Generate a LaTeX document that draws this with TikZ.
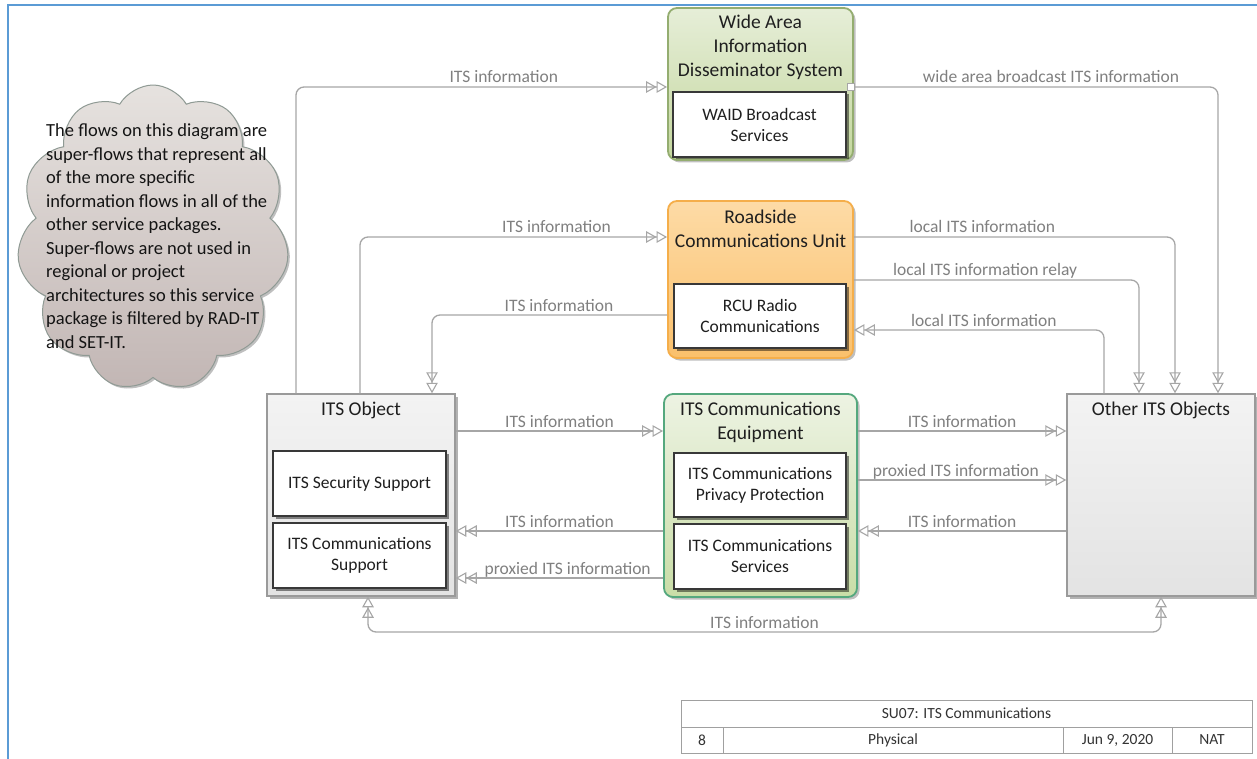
\documentclass[tikz,border=0pt]{standalone}
\usepackage{fontspec}
\setmainfont{Carlito}
\usetikzlibrary{arrows.meta,shapes.symbols,shadows}
\definecolor{framecol}{HTML}{5B9BD5}
\definecolor{flowgray}{HTML}{A6A6A6}
\definecolor{labgray}{HTML}{808080}
\definecolor{waidsborder}{HTML}{94AD70}
\definecolor{waidstop}{HTML}{E6EED8}
\definecolor{waidsbot}{HTML}{C4D79E}
\definecolor{rsuborder}{HTML}{F5AE4A}
\definecolor{rsutop}{HTML}{FDDBA6}
\definecolor{rsubot}{HTML}{FAC06C}
\definecolor{ceborder}{HTML}{55A87E}
\definecolor{cetop}{HTML}{EDF3E3}
\definecolor{cebot}{HTML}{C9DDA7}
\definecolor{gborder}{HTML}{9A9A9A}
\definecolor{gtop}{HTML}{F3F3F3}
\definecolor{gbot}{HTML}{E3E3E3}
\definecolor{cloudtop}{HTML}{E6E2DF}
\definecolor{cloudbot}{HTML}{C2B6B4}
\definecolor{cloudborder}{HTML}{8F9A94}
\definecolor{tbgray}{HTML}{A0A0A0}
\tikzset{dbl/.tip={Triangle[open,length=10.5pt,width=11.5pt,line width=1.1pt] Triangle[open,length=10.5pt,width=11.5pt,line width=1.1pt]}}
\begin{document}
\begin{tikzpicture}[x=1pt,y=-1pt,
  hdr/.style={font=\fontsize{19.5}{24}\selectfont, align=center, text=black!88, inner sep=0pt},
  inner/.style={draw=black!78, fill=white, line width=1.3pt, align=center,
    font=\fontsize{17.5}{21}\selectfont, text=black!88, inner sep=0pt,
    drop shadow={shadow xshift=2.5pt,shadow yshift=-2.5pt,fill=black,opacity=0.45}},
  outer/.style={rounded corners=9pt, line width=1.8pt, inner sep=0pt,
    drop shadow={shadow xshift=2.5pt,shadow yshift=-2.5pt,fill=black,opacity=0.25}},
  sqbox/.style={draw=gborder, line width=1.5pt, top color=gtop, bottom color=gbot, inner sep=0pt,
    drop shadow={shadow xshift=2.5pt,shadow yshift=-2.5pt,fill=black,opacity=0.3}},
  flow/.style={draw=flowgray, line width=1.3pt, rounded corners=8pt},
  flab/.style={font=\fontsize{17.5}{21}\selectfont, text=labgray, anchor=base, yshift=4pt, inner sep=0pt},
  tb/.style={draw=tbgray, line width=1pt, fill=white, font=\fontsize{15.5}{18}\selectfont, text=black!80, inner sep=0pt},
]
\useasboundingbox (0,0) rectangle (1257,759);
\fill[white] (0,0) rectangle (1257,759);
% frame
\draw[framecol, line width=2pt] (8,759) -- (8,5) -- (1257,5);

% note cloud
\node[cloud, cloud puffs=11, cloud puff arc=120, aspect=0.87, draw=cloudborder, line width=1pt,
  top color=cloudtop, bottom color=cloudbot, minimum width=272pt, minimum height=306pt, inner sep=0pt,
  drop shadow={shadow xshift=2pt,shadow yshift=-2pt,fill=black,opacity=0.25}] (cloud) at (153,238) {};
\node[anchor=north west, align=left, font=\fontsize{18.5}{23.5}\selectfont, text=black!92, inner sep=0pt] (note) at (46,123.5)
 {The flows on this diagram are\\super-flows that represent all\\of the more specific\\information flows in all of the\\other service packages.\\Super-flows are not used in\\regional or project\\architectures so this service\\package is filtered by RAD-IT\\and SET-IT.};

% WAIDS
\node[outer, draw=waidsborder, top color=waidstop, bottom color=waidsbot, minimum width=185pt, minimum height=152pt] (waids) at (760.5,84) {};
\node[hdr] (waidsT) at (760.5,47) {Wide Area\\Information\\Disseminator System};
\node[inner, minimum width=173pt, minimum height=65pt] (waidsA) at (759.5,124.5) {WAID Broadcast\\Services};

% RSU
\node[outer, draw=rsuborder, top color=rsutop, bottom color=rsubot, minimum width=185pt, minimum height=157pt] (rsu) at (760.5,279.5) {};
\node[hdr] (rsuT) at (760.5,228.5) {Roadside\\Communications Unit};
\node[inner, minimum width=172pt, minimum height=64pt] (rsuA) at (760,316) {RCU Radio\\Communications};

% ITS Communications Equipment
\node[outer, draw=ceborder, top color=cetop, bottom color=cebot, minimum width=193pt, minimum height=203pt] (ce) at (760.5,495.5) {};
\node[hdr] (ceT) at (760.5,422) {ITS Communications\\Equipment};
\node[inner, minimum width=172pt, minimum height=64pt] (ceA) at (760,485) {ITS Communications\\Privacy Protection};
\node[inner, minimum width=172pt, minimum height=65pt] (ceB) at (760,556.5) {ITS Communications\\Services};

% ITS Object
\node[sqbox, minimum width=188pt, minimum height=202pt] (itso) at (361,495) {};
\node[hdr] (itsoT) at (361,410) {ITS Object};
\node[inner, minimum width=173pt, minimum height=65pt] (itsoA) at (359.5,483.5) {ITS Security Support};
\node[inner, minimum width=173pt, minimum height=65pt] (itsoB) at (359.5,555.5) {ITS Communications\\Support};

% Other ITS Objects
\node[sqbox, minimum width=188pt, minimum height=202pt] (oth) at (1161,495) {};
\node[hdr] (othT) at (1161,410) {Other ITS Objects};

% connection marker
\node[draw=flowgray, fill=white, minimum size=7pt, inner sep=0pt, line width=0.8pt] (wsq) at (851,87) {};

% levels
\coordinate (h87) at (0,87);
\coordinate (h237) at (0,237);
\coordinate (h280) at (0,280);
\coordinate (h315) at (0,315);
\coordinate (h330) at (0,330);
\coordinate (h431) at (0,431);
\coordinate (h480) at (0,480);
\coordinate (h531) at (0,531);
\coordinate (h578) at (0,578);
\coordinate (h632) at (0,632);
\coordinate (v296) at (296,0);
\coordinate (v360) at (360,0);
\coordinate (v368) at (368,0);
\coordinate (v432) at (432,0);
\coordinate (v1104) at (1104,0);
\coordinate (v1139) at (1139,0);
\coordinate (v1161) at (1161,0);
\coordinate (v1175) at (1175,0);
\coordinate (v1218) at (1218,0);

% flows
\draw[flow,-dbl] (itso.north -| v296) |- node[flab,pos=0.78]{ITS information} (waids.west |- h87);
\draw[flow,-dbl] (wsq.east) -| node[flab,pos=0.27]{wide area broadcast ITS information} (oth.north -| v1218);
\draw[flow,-dbl] (itso.north -| v360) |- node[flab,pos=0.82]{ITS information} (rsu.west |- h237);
\draw[flow,-dbl] (rsu.east |- h237) -| node[flab,pos=0.2]{local ITS information} (oth.north -| v1175);
\draw[flow,-dbl] (rsu.east |- h280) -| node[flab,pos=0.23]{local ITS information relay} (oth.north -| v1139);
\draw[flow,-dbl] (rsu.west |- h315) -| node[flab,pos=0.23]{ITS information} (itso.north -| v432);
\draw[flow,-dbl] (oth.north -| v1104) |- node[flab,pos=0.74]{local ITS information} (rsu.east |- h330);
\draw[flow,-dbl] (itso.east |- h431) -- node[flab]{ITS information} (ce.west |- h431);
\draw[flow,-dbl] (ce.east |- h431) -- node[flab]{ITS information} (oth.west |- h431);
\draw[flow,-dbl] (ce.east |- h480) -- node[flab,pos=0.47]{proxied ITS information} (oth.west |- h480);
\draw[flow,-dbl] (oth.west |- h531) -- node[flab]{ITS information} (ce.east |- h531);
\draw[flow,-dbl] (ce.west |- h531) -- node[flab]{ITS information} (itso.east |- h531);
\draw[flow,-dbl] (ce.west |- h578) -- node[flab,pos=0.46]{proxied ITS information} (itso.east |- h578);
\draw[flow,dbl-dbl] (itso.south -| v368) -- (v368 |- h632) -- node[flab]{ITS information} (v1161 |- h632) -- (oth.south -| v1161);

% title block
\node[tb, minimum width=571pt, minimum height=27pt] (tb1) at (966.5,713.5) {SU07: ITS Communications};
\node[tb, minimum width=42pt, minimum height=26pt] (tb2) at (702,740) {8};
\node[tb, minimum width=340pt, minimum height=26pt] (tb3) at (893,740) {Physical};
\node[tb, minimum width=109pt, minimum height=26pt] (tb4) at (1117.5,740) {Jun 9, 2020};
\node[tb, minimum width=80pt, minimum height=26pt] (tb5) at (1212,740) {NAT};
\end{tikzpicture}
\end{document}
